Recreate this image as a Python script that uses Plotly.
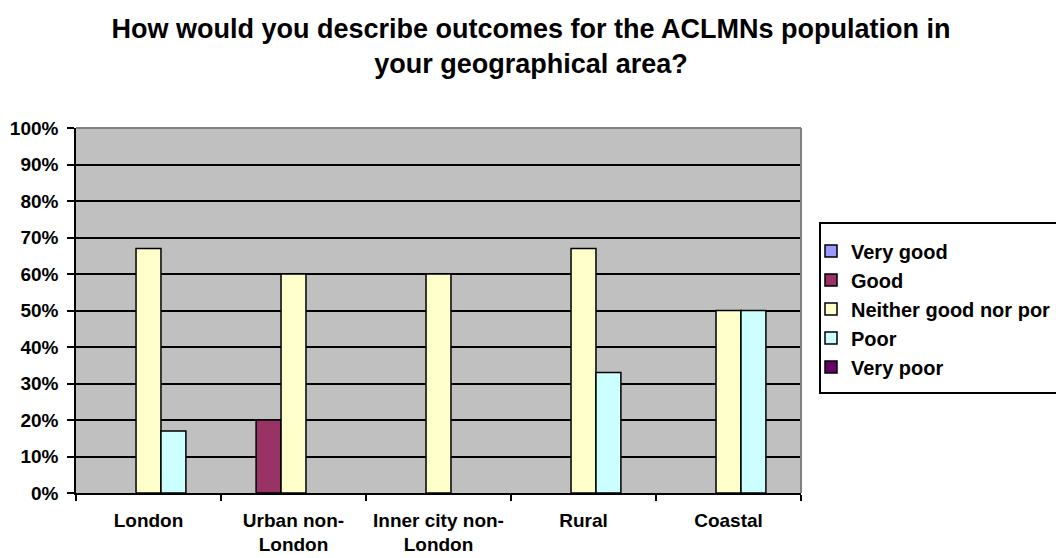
import plotly.graph_objects as go

# Survey responses by geographical area (% of respondents)
areas = ["London", "Urban non-<br>London", "Inner city non-<br>London", "Rural", "Coastal"]
very_good = [0, 0, 0, 0, 0]
good = [0, 20, 0, 0, 0]
neither = [67, 60, 60, 67, 50]
poor = [17, 0, 0, 33, 50]
very_poor = [0, 0, 0, 0, 0]

series = [
    ("Very good", very_good, "#9999FF"),
    ("Good", good, "#993366"),
    ("Neither good nor por", neither, "#FFFFCC"),
    ("Poor", poor, "#CCFFFF"),
    ("Very poor", very_poor, "#660066"),
]

y_ticks = list(range(0, 101, 10))
y_labels = [f"{v}%" for v in y_ticks]

FONT = "Liberation Sans, Arial, sans-serif"

fig = go.Figure()
for name, vals, color in series:
    fig.add_trace(go.Bar(
        name=f"<b>{name}</b>",
        x=areas,
        # zero responses are left as gaps rather than flat outlined bars
        y=[v if v else None for v in vals],
        legendgroup=name,
        marker=dict(color=color, line=dict(color="black", width=1.5)),
    ))

# Legend frame (drawn as a shape so it can run off the right edge)
fig.add_shape(type="rect", xref="paper", yref="paper",
              x0=(820 - 76) / 725, x1=(1070 - 76) / 725,
              y0=(493 - 393) / 365, y1=(493 - 223) / 365,
              fillcolor="white", line=dict(color="black", width=2), layer="below")

fig.update_layout(
    width=1056,
    height=558,
    margin=dict(l=76, r=255, t=128, b=65, autoexpand=False),
    paper_bgcolor="white",
    plot_bgcolor="#C0C0C0",
    barmode="group",
    bargap=0.14,
    bargroupgap=0,
    font=dict(family=FONT, color="black"),
    title=dict(
        text="<b>How would you describe outcomes for the ACLMNs population in<br>your geographical area?</b>",
        font=dict(family=FONT, size=27, color="black"),
        x=531 / 1056,
        xanchor="center",
        xref="container",
        y=1 - 38 / 558,
        yanchor="middle",
        yref="container",
    ),
    legend=dict(
        x=(811 - 76) / 725,
        xanchor="left",
        y=0.504,
        yanchor="middle",
        bgcolor="rgba(0,0,0,0)",
        borderwidth=0,
        font=dict(family=FONT, size=20, color="black"),
        traceorder="normal",
        tracegroupgap=8,
    ),
    showlegend=True,
)

fig.update_xaxes(
    showgrid=False,
    showline=True,
    linecolor="black",
    linewidth=1.5,
    ticks="outside",
    tickson="boundaries",
    ticklen=6,
    tickwidth=1.5,
    tickcolor="black",
    ticklabelstandoff=9,
    tickfont=dict(family=FONT, size=19, color="black", weight="bold"),
)

fig.update_yaxes(
    range=[0, 100],
    tickvals=y_ticks,
    ticktext=y_labels,
    showgrid=True,
    gridcolor="black",
    gridwidth=1.5,
    showline=True,
    linecolor="black",
    linewidth=1.5,
    ticks="outside",
    ticklen=7,
    tickwidth=1.5,
    tickcolor="black",
    ticklabelstandoff=5,
    zeroline=False,
    tickfont=dict(family=FONT, size=19, color="black", weight="bold"),
)

# Grey plot-area frame on the top and right edges
fig.add_shape(type="line", xref="paper", yref="paper", x0=0, x1=1, y0=1, y1=1,
              line=dict(color="#808080", width=2))
fig.add_shape(type="line", xref="paper", yref="paper", x0=1, x1=1, y0=0, y1=1,
              line=dict(color="#808080", width=2))

fig.write_html("out.html")
